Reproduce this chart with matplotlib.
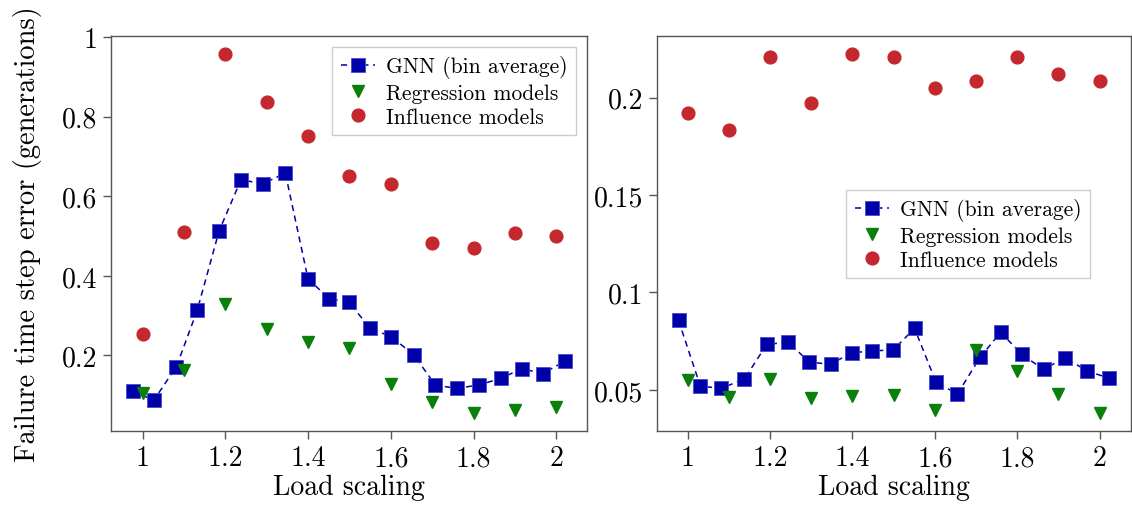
import numpy as np
import matplotlib
matplotlib.use('Agg')
import matplotlib.pyplot as plt
from matplotlib.ticker import FuncFormatter

# Data
load_left = [0.976, 1.027, 1.082, 1.132, 1.185, 1.238, 1.291, 1.345, 1.400, 1.451, 1.499,
             1.549, 1.601, 1.655, 1.708, 1.761, 1.814, 1.866, 1.917, 1.967, 2.022]
gnn_left = [0.111, 0.087, 0.172, 0.313, 0.513, 0.642, 0.631, 0.659, 0.392, 0.343, 0.334,
            0.269, 0.247, 0.202, 0.125, 0.117, 0.126, 0.142, 0.167, 0.154, 0.186]

load_right = [0.978, 1.031, 1.082, 1.138, 1.192, 1.244, 1.295, 1.347, 1.398, 1.448, 1.499,
              1.551, 1.603, 1.655, 1.710, 1.760, 1.811, 1.864, 1.916, 1.970, 2.024]
gnn_right = [0.0856, 0.0519, 0.0508, 0.0556, 0.0733, 0.0745, 0.0643, 0.0631, 0.0691, 0.0699, 0.0706,
             0.0815, 0.0539, 0.0479, 0.0667, 0.0796, 0.0682, 0.0605, 0.0665, 0.0597, 0.0559]

load_models = [1.0, 1.1, 1.2, 1.3, 1.4, 1.5, 1.6, 1.7, 1.8, 1.9, 2.0]
reg_left = [0.105, 0.163, 0.330, 0.267, 0.234, 0.219, 0.128, 0.082, 0.055, 0.062, 0.071]
infl_left = [0.254, 0.511, 0.958, 0.838, 0.751, 0.651, 0.631, 0.482, 0.471, 0.509, 0.500]
reg_right = [0.0551, 0.0461, 0.0554, 0.0457, 0.0466, 0.0476, 0.0396, 0.0703, 0.0597, 0.0481, 0.0381]
infl_right = [0.1921, 0.1836, 0.2209, 0.1974, 0.2224, 0.2206, 0.2051, 0.2083, 0.2206, 0.2121, 0.2085]

plt.rcParams['font.family'] = ['cmr10', 'DejaVu Serif']
plt.rcParams['axes.formatter.use_mathtext'] = True
plt.rcParams['mathtext.fontset'] = 'cm'

blue = '#0000a8'
green = '#0a800a'
red = '#c4282e'

fig = plt.figure(figsize=(11.32, 5.06), dpi=100)
ax1 = fig.add_axes([111/1132, 74/506, 476/1132, 395/506])
ax2 = fig.add_axes([657/1132, 74/506, 474/1132, 395/506])

fmt = FuncFormatter(lambda v, p: '%g' % v)

for ax, lx, gy, ry, iy in [(ax1, load_left, gnn_left, reg_left, infl_left),
                           (ax2, load_right, gnn_right, reg_right, infl_right)]:
    ax.plot(lx, gy, ls=(0, (4, 3)), lw=1.1, color=blue, marker='s', ms=10,
            mfc=blue, mec='#4a4ad0', mew=0.6, label='GNN (bin average)')
    ax.plot(load_models, ry, ls='none', marker='v', ms=8, color=green,
            label='Regression models')
    ax.plot(load_models, iy, ls='none', marker='o', ms=9.2, color=red,
            label='Influence models')
    ax.set_xlabel('Load scaling', fontsize=20, labelpad=2)
    ax.set_xticks([1, 1.2, 1.4, 1.6, 1.8, 2])
    ax.xaxis.set_major_formatter(fmt)
    ax.yaxis.set_major_formatter(fmt)
    ax.tick_params(direction='out', length=6, width=1, color='#555555',
                   labelsize=20, pad=4)
    for s in ax.spines.values():
        s.set_color('#555555')
        s.set_linewidth(1.0)

ax1.set_yticks([0.2, 0.4, 0.6, 0.8, 1.0])
ax2.set_yticks([0.05, 0.1, 0.15, 0.2])
ax1.set_ylabel('Failure time step error (generations)', fontsize=20.5, labelpad=14)

leg_kw = dict(fontsize=15.5, fancybox=False, edgecolor='#cccccc', framealpha=1,
              handlelength=1.6, handletextpad=0.5, labelspacing=0.22,
              borderpad=0.4)
l1 = ax1.legend(loc='upper right', **leg_kw)
l2 = ax2.legend(loc='upper right', bbox_to_anchor=(0.9135, 0.611), borderaxespad=0, **leg_kw)
for l in (l1, l2):
    l.get_frame().set_linewidth(1.0)

fig.savefig('out.png', dpi=100)
